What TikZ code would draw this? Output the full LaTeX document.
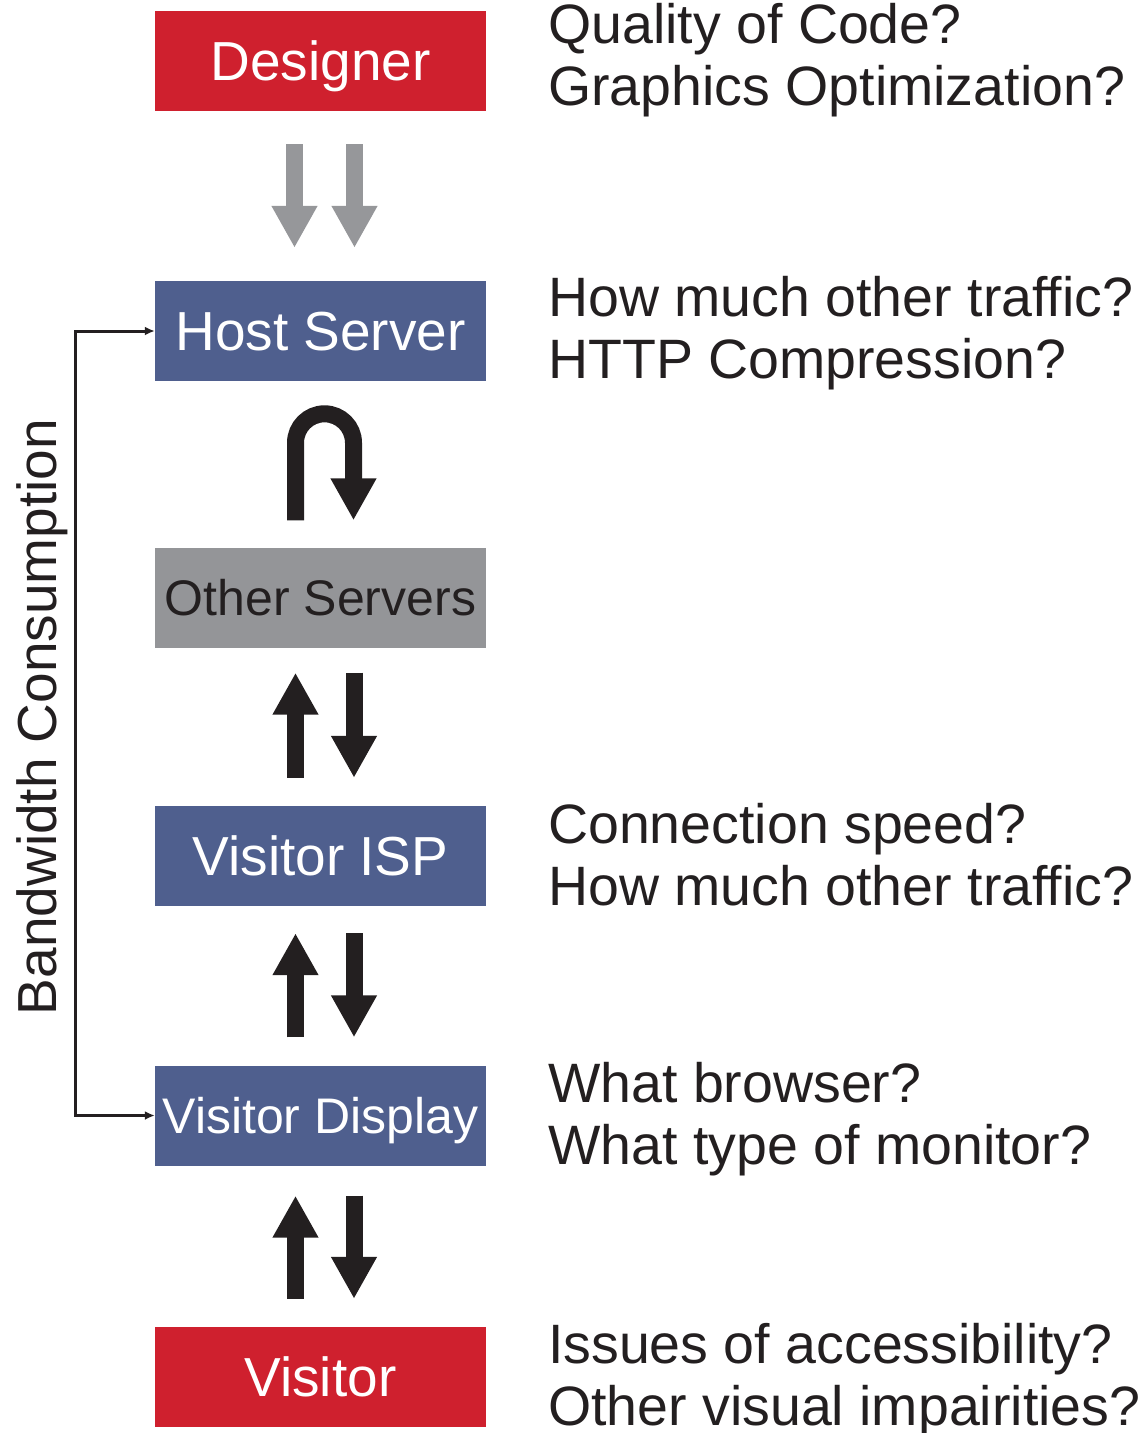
\documentclass[tikz,border=0pt]{standalone}
\usepackage{fontspec}
\setmainfont{Liberation Sans}
\usetikzlibrary{arrows.meta}
\definecolor{boxred}{RGB}{207,32,46}
\definecolor{boxblue}{RGB}{79,95,142}
\definecolor{boxgray}{RGB}{148,149,152}
\definecolor{arrowgray}{RGB}{150,151,154}
\definecolor{ink}{RGB}{35,31,32}
\begin{document}
\begin{tikzpicture}[x=1pt,y=1pt,
  stage/.style={rectangle, minimum width=331pt, minimum height=100pt,
    inner sep=0pt, text=white, font=\fontsize{55}{62}\selectfont,
    text height=39.4pt, text depth=0pt},
  narrowlabel/.style={font=\fontsize{50}{60}\selectfont, text height=35.8pt},
  question/.style={anchor=base west, align=left, inner sep=0pt, text=ink,
    font=\fontsize{55.5}{62}\selectfont},
  blockarrow/.style={line width=17pt, draw=ink,
    -{Triangle[width=43pt,length=42pt]}},
  grayarrow/.style={blockarrow, draw=arrowgray},
  bracket/.style={line width=3pt, draw=ink,
    {Latex[length=10pt,width=9pt]}-{Latex[length=10pt,width=9pt]}}
]
\useasboundingbox (0,0) rectangle (1145,-1433);

% chain of stages
\node[stage, fill=boxred]  (designer) at (320.5,-61)    {Designer};
\node[stage, fill=boxblue] (host)     at (320.5,-331)   {Host Server};
\node[stage, fill=boxgray, narrowlabel, text=ink] (other) at (320.5,-597.5) {Other Servers};
\node[stage, fill=boxblue] (isp)      at (320.5,-856)   {Visitor ISP};
\node[stage, fill=boxblue, narrowlabel] (display) at (320.5,-1115.5) {Visitor Display};
\node[stage, fill=boxred]  (visitor)  at (320.5,-1377)  {Visitor};

% designer to host
\draw[grayarrow, shorten <=33pt, shorten >=33pt]
  ([xshift=-26pt]designer.south) -- ([xshift=-26pt]host.north);
\draw[grayarrow, shorten <=33pt, shorten >=33pt]
  ([xshift=34pt]designer.south) -- ([xshift=34pt]host.north);

% u-turn above the other servers
\draw[blockarrow] ([xshift=-25pt,yshift=27pt]other.north) -- ++(0,77.5)
  arc[start angle=180, end angle=0, radius=29] -- ++(0,-77.5);

% two-way traffic
\draw[blockarrow, shorten <=28pt, shorten >=25pt]
  ([xshift=-25pt]isp.north) -- ([xshift=-25pt]other.south);
\draw[blockarrow, shorten <=25pt, shorten >=28pt]
  ([xshift=33.5pt]other.south) -- ([xshift=33.5pt]isp.north);

\draw[blockarrow, shorten <=28pt, shorten >=27pt]
  ([xshift=-25pt]display.north) -- ([xshift=-25pt]isp.south);
\draw[blockarrow, shorten <=27pt, shorten >=28pt]
  ([xshift=33.5pt]isp.south) -- ([xshift=33.5pt]display.north);

\draw[blockarrow, shorten <=28pt, shorten >=30pt]
  ([xshift=-25pt]visitor.north) -- ([xshift=-25pt]display.south);
\draw[blockarrow, shorten <=30pt, shorten >=28pt]
  ([xshift=33.5pt]display.south) -- ([xshift=33.5pt]visitor.north);

% bandwidth bracket
\draw[bracket] (host.west) -- ++(-79,0) |- (display.west);
\node[rotate=90, anchor=base, inner sep=0pt, text=ink,
  font=\fontsize{55}{62}\selectfont] (bw) at (56,-717) {Bandwidth Consumption};

% questions (anchored at the baseline of the second line)
\node[question] (qdesigner) at (548,-105)  {Quality of Code?\\Graphics Optimization?};
\node[question] (qhost)     at (548,-378)  {How much other traffic?\\HTTP Compression?};
\node[question] (qisp)      at (548,-905)  {Connection speed?\\How much other traffic?};
\node[question] (qdisplay)  at (548,-1164) {What browser?\\What type of monitor?};
\node[question] (qvisitor)  at (548,-1425) {Issues of accessibility?\\Other visual impairities?};
\end{tikzpicture}
\end{document}
